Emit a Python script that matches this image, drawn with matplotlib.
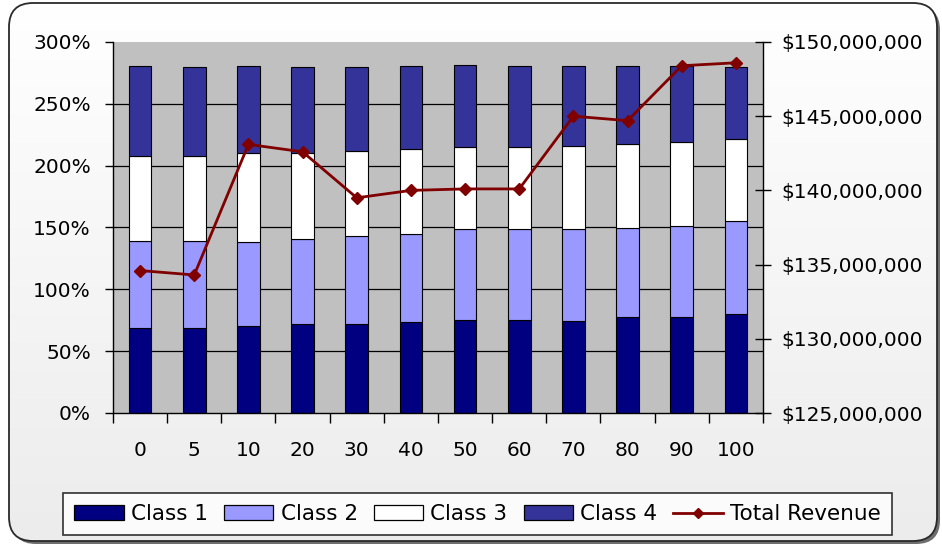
import numpy as np
import matplotlib
matplotlib.use("Agg")
import matplotlib.pyplot as plt
from matplotlib.patches import FancyBboxPatch, Patch
from matplotlib.lines import Line2D
from matplotlib.ticker import FuncFormatter, MultipleLocator, FixedLocator

# Share of each class (percent), stacked per scenario
categories = ["0", "5", "10", "20", "30", "40", "50", "60", "70", "80", "90", "100"]
class1 = [69.0, 69.0, 70.4, 72.0, 72.0, 73.4, 75.6, 75.6, 74.2, 77.7, 77.7, 80.4]
class2 = [70.4, 70.4, 68.0, 69.1, 71.0, 71.2, 72.8, 72.8, 74.2, 72.3, 73.4, 74.9]
class3 = [68.5, 68.5, 72.0, 68.8, 69.0, 69.0, 66.8, 66.8, 67.4, 67.4, 67.9, 65.9]
class4 = [72.6, 71.5, 70.1, 69.5, 67.4, 66.9, 66.1, 65.3, 64.7, 63.1, 61.5, 58.2]
# Total revenue in dollars
revenue = [134.6e6, 134.3e6, 143.1e6, 142.6e6, 139.5e6, 140.0e6,
           140.1e6, 140.1e6, 145.0e6, 144.7e6, 148.4e6, 148.6e6]

series = [("Class 1", class1, "#000080"),
          ("Class 2", class2, "#9999FF"),
          ("Class 3", class3, "#FFFFFF"),
          ("Class 4", class4, "#333399")]
line_color = "#800000"

plt.rcParams["font.family"] = ["DejaVu Sans"]
TICK_FS = 14.5
W, H = 942, 546
fig = plt.figure(figsize=(W / 100, H / 100), dpi=100)

# Chart area: rounded frame with drop shadow and soft vertical gradient
bg = fig.add_axes([0, 0, 1, 1], zorder=-10)
bg.axis("off")
shadow = FancyBboxPatch((12, 6), 928, 538, boxstyle="round,pad=0,rounding_size=24",
                        fc="#6e6e6e", ec="none")
bg.add_patch(shadow)
frame = FancyBboxPatch((9, 3), 928, 538, boxstyle="round,pad=0,rounding_size=24",
                       fc="none", ec="#2a2a2a", lw=1.3, zorder=3)
bg.add_patch(frame)
grad = np.linspace(1.0, 0.925, 256)[:, None] * np.ones((1, 4))
rgb = np.dstack([grad, grad, grad])
im = bg.imshow(rgb, extent=[0, W, H, 0], aspect="auto", zorder=2)
im.set_clip_path(frame)
bg.set_xlim(0, W)
bg.set_ylim(H, 0)

# Plot area
L, R, T, B = 113, 763, 42, 413
ax = fig.add_axes([L / W, 1 - B / H, (R - L) / W, (B - T) / H])
ax.set_facecolor("#C0C0C0")
x = np.arange(len(categories))
bottom = np.zeros(len(categories))
for name, vals, col in series:
    ax.bar(x, vals, width=0.42, bottom=bottom, color=col, edgecolor="black",
           linewidth=0.8, label=name, zorder=2)
    bottom += np.array(vals)

ax.set_xlim(-0.5, len(categories) - 0.5)
ax.set_ylim(0, 300)
for v in range(50, 300, 50):
    ax.axhline(v, color="black", lw=0.9, zorder=1)

ax.yaxis.set_major_locator(MultipleLocator(50))
ax.yaxis.set_major_formatter(FuncFormatter(lambda v, p: f"{v:.0f}%"))
ax.set_xticks(x)
ax.set_xticklabels(categories)
ax.xaxis.set_minor_locator(FixedLocator(np.arange(-0.5, len(categories), 1.0)))
ax.tick_params(axis="x", which="major", length=0, pad=20, labelsize=TICK_FS)
ax.tick_params(axis="x", which="minor", length=7, width=1, direction="out")
ax.tick_params(axis="y", which="major", length=6, width=1, direction="out",
               pad=10, labelsize=TICK_FS)
for s in ("top", "right"):
    ax.spines[s].set_visible(False)
for s in ("left", "bottom"):
    ax.spines[s].set_linewidth(1.0)

# Revenue on secondary axis
ax2 = ax.twinx()
ax2.plot(x, revenue, color=line_color, lw=2, marker="D", markersize=6,
         label="Total Revenue", zorder=5)
ax2.set_ylim(125e6, 150e6)
ax2.yaxis.set_major_locator(MultipleLocator(5e6))
ax2.yaxis.set_major_formatter(FuncFormatter(lambda v, p: f"${v:,.0f}"))
ax2.tick_params(axis="y", length=11, width=1, direction="inout", pad=8,
                labelsize=TICK_FS)
for s in ("top", "left", "bottom"):
    ax2.spines[s].set_visible(False)
ax2.spines["right"].set_linewidth(1.0)

# Legend along the bottom
handles = [Patch(facecolor=c, edgecolor="black", linewidth=0.9) for _, _, c in series]
handles.append(Line2D([0], [0], color=line_color, lw=2, marker="D", markersize=5))
labels = [n for n, _, _ in series] + ["Total Revenue"]
leg = fig.legend(handles, labels, loc="center", bbox_to_anchor=(477.5 / W, 1 - 514 / H),
                 ncol=5, frameon=True, fancybox=False, edgecolor="black",
                 fontsize=15.5, handlelength=2.3, handleheight=0.65, handletextpad=0.33,
                 columnspacing=0.75, borderpad=0.5, borderaxespad=0)
leg.get_frame().set_linewidth(1.2)
leg.get_frame().set_facecolor("white")

fig.savefig("out.png", dpi=100)
